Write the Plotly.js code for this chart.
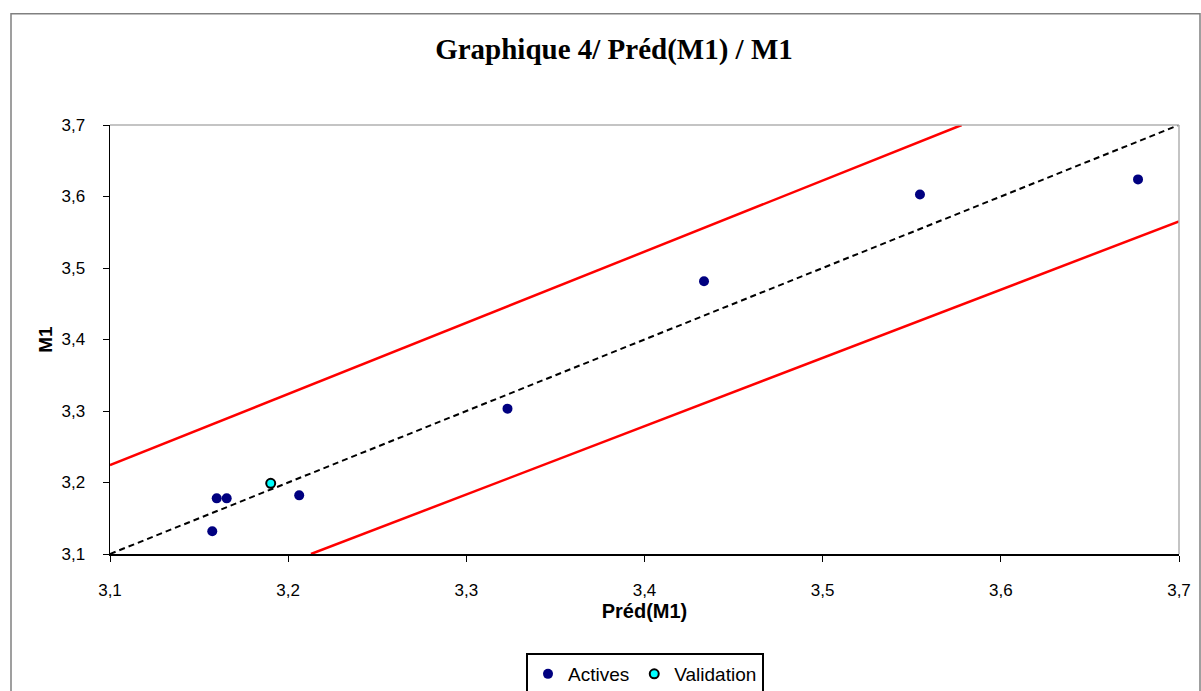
<!DOCTYPE html>
<html><head><meta charset="utf-8">
<script src="https://cdn.plot.ly/plotly-3.0.1.min.js"></script>
<style>body{margin:0;background:#fff}#c{width:1201px;height:691px}</style>
</head><body><div id="c"></div>
<script>
// Data
const activesX = [3.1574, 3.1599, 3.1655, 3.2062, 3.3231, 3.4334, 3.5546, 3.6770];
const activesY = [3.1317, 3.1778, 3.1778, 3.1820, 3.3033, 3.4814, 3.6029, 3.6239];
const validationX = [3.1902];
const validationY = [3.1988];
const diagX = [3.1, 3.7];
const diagY = [3.1, 3.7];
const upperX = [3.1, 3.578];
const upperY = [3.2243, 3.7];
const lowerX = [3.2128, 3.7];
const lowerY = [3.1, 3.5652];
const tickVals = [3.1, 3.2, 3.3, 3.4, 3.5, 3.6, 3.7];

const traces = [
  {x: upperX, y: upperY, mode: 'lines', line: {color: '#ff0000', width: 2.5}, showlegend: false, hoverinfo: 'skip'},
  {x: lowerX, y: lowerY, mode: 'lines', line: {color: '#ff0000', width: 2.5}, showlegend: false, hoverinfo: 'skip'},
  {x: diagX, y: diagY, mode: 'lines', line: {color: '#000000', width: 2, dash: '6px,4px'}, showlegend: false, hoverinfo: 'skip'},
  {x: activesX, y: activesY, mode: 'markers', name: 'Actives', marker: {color: '#000080', size: 10}},
  {x: validationX, y: validationY, mode: 'markers', name: 'Validation', marker: {color: '#00ffff', size: 9, line: {color: '#000000', width: 2}}}
];

const L = 110, R = 1179, T = 124.5, B = 554;
const pw = R - L, ph = B - T;
const layout = {
  width: 1201, height: 691,
  margin: {l: L, r: 1201 - R, t: T, b: 691 - B, pad: 0, autoexpand: false},
  paper_bgcolor: '#ffffff', plot_bgcolor: '#ffffff',
  separators: ', ',
  font: {family: 'Liberation Sans, Arial, sans-serif', color: '#000', size: 17},
  title: {text: '<b>Graphique 4/ Préd(M1) / M1</b>', font: {family: 'Liberation Serif, Times New Roman, serif', size: 29, color: '#000'},
          x: 614 / 1201, xref: 'container', xanchor: 'center', y: 1 - 49 / 691, yref: 'container', yanchor: 'middle'},
  xaxis: {range: [3.1, 3.7], tickvals: tickVals, tickformat: '.1f', showgrid: false, zeroline: false,
          showline: true, linecolor: '#000', linewidth: 1.5, ticks: 'outside', ticklen: 6, tickcolor: '#000',
          ticklabelstandoff: 14, tickfont: {size: 17},
          title: {text: '<b>Préd(M1)</b>', font: {size: 20}, standoff: 4}},
  yaxis: {range: [3.1, 3.7], tickvals: tickVals, tickformat: '.1f', showgrid: false, zeroline: false,
          showline: true, linecolor: '#000', linewidth: 1.5, ticks: 'outside', ticklen: 6, tickcolor: '#000',
          ticklabelstandoff: 14, tickfont: {size: 17},
          title: {text: '<b>M1</b>', font: {size: 19}, standoff: 4}},
  legend: {orientation: 'h', x: (645 - L) / pw, xanchor: 'center', y: 1 - 653 / 691, yref: 'container', yanchor: 'top',
           bordercolor: '#000', borderwidth: 2, bgcolor: '#fff', font: {size: 19}, itemwidth: 30},
  shapes: [
    {type: 'line', xref: 'paper', yref: 'paper', x0: 0, x1: 1, y0: 1, y1: 1, line: {color: '#b0b0b0', width: 1.5}},
    {type: 'line', xref: 'paper', yref: 'paper', x0: 1, x1: 1, y0: 0, y1: 1, line: {color: '#b0b0b0', width: 1.5}},
    {type: 'rect', xref: 'paper', yref: 'paper', x0: (11 - L) / pw, x1: (1200 - L) / pw, y0: (B - 720) / ph, y1: (B - 13) / ph,
     line: {color: '#808080', width: 1.5}, fillcolor: 'rgba(0,0,0,0)', layer: 'below'}
  ],
  showlegend: true
};
Plotly.newPlot('c', traces, layout, {displayModeBar: false, staticPlot: true});
</script></body></html>
